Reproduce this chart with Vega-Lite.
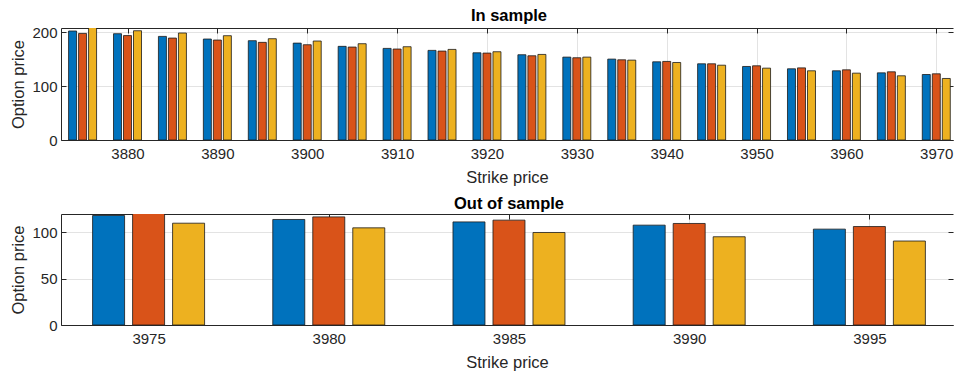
{
  "$schema": "https://vega.github.io/schema/vega-lite/v6.json",
  "padding": {"left": 10, "top": 7, "right": 0, "bottom": 0},
  "background": "white",
  "datasets": {
    "insample": [
      {"strike": 3875, "model": "Series 1", "price": 202.5}, {"strike": 3875, "model": "Series 2", "price": 198.0}, {"strike": 3875, "model": "Series 3", "price": 209.5},
      {"strike": 3880, "model": "Series 1", "price": 197.5}, {"strike": 3880, "model": "Series 2", "price": 194.0}, {"strike": 3880, "model": "Series 3", "price": 203.0},
      {"strike": 3885, "model": "Series 1", "price": 192.5}, {"strike": 3885, "model": "Series 2", "price": 189.4}, {"strike": 3885, "model": "Series 3", "price": 198.8},
      {"strike": 3890, "model": "Series 1", "price": 187.6}, {"strike": 3890, "model": "Series 2", "price": 185.7}, {"strike": 3890, "model": "Series 3", "price": 193.8},
      {"strike": 3895, "model": "Series 1", "price": 184.5}, {"strike": 3895, "model": "Series 2", "price": 181.4}, {"strike": 3895, "model": "Series 3", "price": 188.2},
      {"strike": 3900, "model": "Series 1", "price": 180.0}, {"strike": 3900, "model": "Series 2", "price": 177.0}, {"strike": 3900, "model": "Series 3", "price": 183.9},
      {"strike": 3905, "model": "Series 1", "price": 174.0}, {"strike": 3905, "model": "Series 2", "price": 172.7}, {"strike": 3905, "model": "Series 3", "price": 178.9},
      {"strike": 3910, "model": "Series 1", "price": 170.2}, {"strike": 3910, "model": "Series 2", "price": 169.0}, {"strike": 3910, "model": "Series 3", "price": 173.3},
      {"strike": 3915, "model": "Series 1", "price": 166.5}, {"strike": 3915, "model": "Series 2", "price": 165.2}, {"strike": 3915, "model": "Series 3", "price": 168.3},
      {"strike": 3920, "model": "Series 1", "price": 162.0}, {"strike": 3920, "model": "Series 2", "price": 161.5}, {"strike": 3920, "model": "Series 3", "price": 164.0},
      {"strike": 3925, "model": "Series 1", "price": 158.4}, {"strike": 3925, "model": "Series 2", "price": 156.5}, {"strike": 3925, "model": "Series 3", "price": 159.0},
      {"strike": 3930, "model": "Series 1", "price": 154.0}, {"strike": 3930, "model": "Series 2", "price": 152.8}, {"strike": 3930, "model": "Series 3", "price": 154.0},
      {"strike": 3935, "model": "Series 1", "price": 150.3}, {"strike": 3935, "model": "Series 2", "price": 149.0}, {"strike": 3935, "model": "Series 3", "price": 148.4},
      {"strike": 3940, "model": "Series 1", "price": 145.3}, {"strike": 3940, "model": "Series 2", "price": 146.0}, {"strike": 3940, "model": "Series 3", "price": 144.0},
      {"strike": 3945, "model": "Series 1", "price": 141.6}, {"strike": 3945, "model": "Series 2", "price": 141.6}, {"strike": 3945, "model": "Series 3", "price": 139.0},
      {"strike": 3950, "model": "Series 1", "price": 136.6}, {"strike": 3950, "model": "Series 2", "price": 137.9}, {"strike": 3950, "model": "Series 3", "price": 133.5},
      {"strike": 3955, "model": "Series 1", "price": 132.3}, {"strike": 3955, "model": "Series 2", "price": 134.0}, {"strike": 3955, "model": "Series 3", "price": 128.6},
      {"strike": 3960, "model": "Series 1", "price": 128.6}, {"strike": 3960, "model": "Series 2", "price": 130.4}, {"strike": 3960, "model": "Series 3", "price": 124.2},
      {"strike": 3965, "model": "Series 1", "price": 124.8}, {"strike": 3965, "model": "Series 2", "price": 126.7}, {"strike": 3965, "model": "Series 3", "price": 119.3},
      {"strike": 3970, "model": "Series 1", "price": 121.7}, {"strike": 3970, "model": "Series 2", "price": 123.0}, {"strike": 3970, "model": "Series 3", "price": 114.3}
    ],
    "outsample": [
      {"strike": 3975, "model": "Series 1", "price": 117.9}, {"strike": 3975, "model": "Series 2", "price": 121.0}, {"strike": 3975, "model": "Series 3", "price": 109.6},
      {"strike": 3980, "model": "Series 1", "price": 113.6}, {"strike": 3980, "model": "Series 2", "price": 116.4}, {"strike": 3980, "model": "Series 3", "price": 104.6},
      {"strike": 3985, "model": "Series 1", "price": 111.0}, {"strike": 3985, "model": "Series 2", "price": 112.9}, {"strike": 3985, "model": "Series 3", "price": 99.6},
      {"strike": 3990, "model": "Series 1", "price": 107.5}, {"strike": 3990, "model": "Series 2", "price": 109.3}, {"strike": 3990, "model": "Series 3", "price": 95.0},
      {"strike": 3995, "model": "Series 1", "price": 103.2}, {"strike": 3995, "model": "Series 2", "price": 106.0}, {"strike": 3995, "model": "Series 3", "price": 90.4}
    ]
  },
  "bounds": "flush",
  "spacing": 74,
  "vconcat": [
    {
      "title": {"text": "In sample", "dx": 2},
      "width": 892,
      "height": 112,
      "data": {"name": "insample"},
      "encoding": {
        "color": {"field": "model", "type": "nominal", "scale": {"domain": ["Series 1", "Series 2", "Series 3"], "range": ["#0072BD", "#D95319", "#EDB120"]}, "legend": null}
      },
      "layer": [
        {
          "transform": [{"filter": "datum.model === 'Series 1'"}],
          "mark": {"type": "bar", "orient": "vertical", "size": 8, "xOffset": -10, "clip": true, "stroke": "#1a1a1a", "strokeWidth": 0.8},
          "encoding": {
            "x": {"field": "strike", "type": "quantitative", "scale": {"domain": [3872.6, 3971.86], "nice": false, "zero": false, "padding": 0},
              "axis": {"orient": "bottom", "values": [3880, 3890, 3900, 3910, 3920, 3930, 3940, 3950, 3960, 3970], "format": "d", "ticks": false, "grid": true, "labelPadding": 6, "title": "Strike price"}},
            "y": {"field": "price", "type": "quantitative", "scale": {"domain": [0, 208.1], "nice": false},
              "axis": {"orient": "left", "values": [0, 100, 200], "format": "d", "tickSize": -5, "labelPadding": 9, "titlePadding": 5, "grid": true, "title": "Option price"}}
          }
        },
        {
          "transform": [{"filter": "datum.model === 'Series 2'"}],
          "mark": {"type": "bar", "orient": "vertical", "size": 8, "xOffset": 0, "clip": true, "stroke": "#1a1a1a", "strokeWidth": 0.8},
          "encoding": {
            "x": {"field": "strike", "type": "quantitative", "scale": {"domain": [3872.6, 3971.86], "nice": false, "zero": false, "padding": 0},
              "axis": {"orient": "top", "values": [3880, 3890, 3900, 3910, 3920, 3930, 3940, 3950, 3960, 3970], "labels": false, "tickSize": -5, "grid": false, "title": null}},
            "y": {"field": "price", "type": "quantitative", "scale": {"domain": [0, 208.1], "nice": false},
              "axis": {"orient": "right", "values": [0, 100, 200], "labels": false, "tickSize": -5, "domain": false, "grid": false, "title": null}}
          }
        },
        {
          "transform": [{"filter": "datum.model === 'Series 3'"}],
          "mark": {"type": "bar", "orient": "vertical", "size": 8, "xOffset": 10, "clip": true, "stroke": "#1a1a1a", "strokeWidth": 0.8},
          "encoding": {
            "x": {"field": "strike", "type": "quantitative", "scale": {"domain": [3872.6, 3971.86], "nice": false, "zero": false, "padding": 0}, "axis": null},
            "y": {"field": "price", "type": "quantitative", "scale": {"domain": [0, 208.1], "nice": false}, "axis": null}
          }
        }
      ],
      "resolve": {"axis": {"x": "independent", "y": "independent"}}
    },
    {
      "title": {"text": "Out of sample", "dx": 2},
      "width": 892,
      "height": 111,
      "data": {"name": "outsample"},
      "encoding": {
        "color": {"field": "model", "type": "nominal", "scale": {"domain": ["Series 1", "Series 2", "Series 3"], "range": ["#0072BD", "#D95319", "#EDB120"]}, "legend": null}
      },
      "layer": [
        {
          "transform": [{"filter": "datum.model === 'Series 1'"}],
          "mark": {"type": "bar", "orient": "vertical", "size": 32, "xOffset": -40, "clip": true, "stroke": "#1a1a1a", "strokeWidth": 0.8},
          "encoding": {
            "x": {"field": "strike", "type": "quantitative", "scale": {"domain": [3972.57, 3997.32], "nice": false, "zero": false, "padding": 0},
              "axis": {"orient": "bottom", "values": [3975, 3980, 3985, 3990, 3995], "format": "d", "ticks": false, "grid": true, "labelPadding": 6, "title": "Strike price"}},
            "y": {"field": "price", "type": "quantitative", "scale": {"domain": [0, 119.5], "nice": false},
              "axis": {"orient": "left", "values": [0, 50, 100], "format": "d", "tickSize": -5, "labelPadding": 9, "titlePadding": 5, "grid": true, "title": "Option price"}}
          }
        },
        {
          "transform": [{"filter": "datum.model === 'Series 2'"}],
          "mark": {"type": "bar", "orient": "vertical", "size": 32, "xOffset": 0, "clip": true, "stroke": "#1a1a1a", "strokeWidth": 0.8},
          "encoding": {
            "x": {"field": "strike", "type": "quantitative", "scale": {"domain": [3972.57, 3997.32], "nice": false, "zero": false, "padding": 0},
              "axis": {"orient": "top", "values": [3975, 3980, 3985, 3990, 3995], "labels": false, "tickSize": -5, "grid": false, "title": null}},
            "y": {"field": "price", "type": "quantitative", "scale": {"domain": [0, 119.5], "nice": false},
              "axis": {"orient": "right", "values": [0, 50, 100], "labels": false, "tickSize": -5, "domain": false, "grid": false, "title": null}}
          }
        },
        {
          "transform": [{"filter": "datum.model === 'Series 3'"}],
          "mark": {"type": "bar", "orient": "vertical", "size": 32, "xOffset": 40, "clip": true, "stroke": "#1a1a1a", "strokeWidth": 0.8},
          "encoding": {
            "x": {"field": "strike", "type": "quantitative", "scale": {"domain": [3972.57, 3997.32], "nice": false, "zero": false, "padding": 0}, "axis": null},
            "y": {"field": "price", "type": "quantitative", "scale": {"domain": [0, 119.5], "nice": false}, "axis": null}
          }
        }
      ],
      "resolve": {"axis": {"x": "independent", "y": "independent"}}
    }
  ],
  "config": {
    "view": {"stroke": null},
    "font": "Liberation Sans",
    "axis": {
      "labelFont": "Liberation Sans", "labelFontSize": 15, "labelColor": "#262626",
      "titleFont": "Liberation Sans", "titleFontSize": 16.5, "titleFontWeight": "normal", "titleColor": "#262626", "titlePadding": 5,
      "domainColor": "#262626", "domainWidth": 1, "tickColor": "#262626", "tickWidth": 1,
      "gridColor": "#e3e3e3", "gridWidth": 1
    },
    "axisX": {"titlePadding": 8},
    "title": {"font": "Liberation Sans", "fontSize": 16.5, "fontWeight": "bold", "color": "#000000", "anchor": "middle", "offset": 1}
  }
}
